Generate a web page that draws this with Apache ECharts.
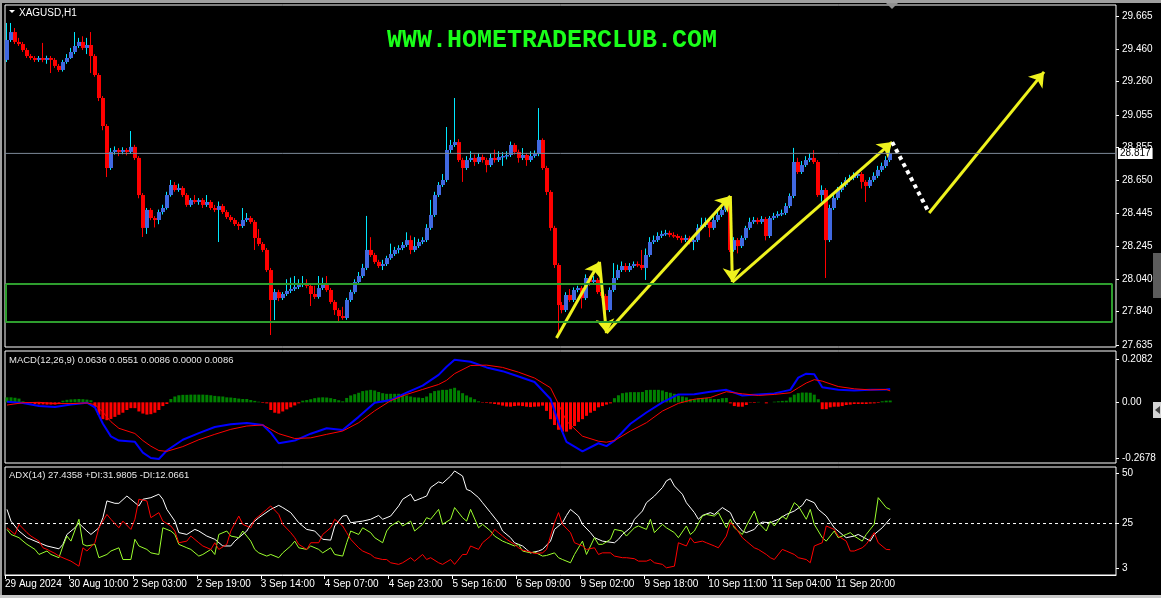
<!DOCTYPE html>
<html><head><meta charset="utf-8">
<script src="https://cdn.jsdelivr.net/npm/echarts@6/dist/echarts.min.js"></script>
<style>html,body{margin:0;padding:0;background:#000;overflow:hidden}#c{width:1161px;height:598px}</style>
</head><body><div id="c"></div>
<script>
// ---------- DATA ----------
const symbolTitle = 'XAGUSD,H1';
const watermark = 'WWW.HOMETRADERCLUB.COM';
const xTickBars = [0,16,32,48,64,80,96,112,128,144,160,176,192,208];
const xTickLabels = ['29 Aug 2024','30 Aug 10:00','2 Sep 03:00','2 Sep 19:00','3 Sep 14:00','4 Sep 07:00','4 Sep 23:00','5 Sep 16:00','6 Sep 09:00','9 Sep 02:00','9 Sep 18:00','10 Sep 11:00','11 Sep 04:00','11 Sep 20:00'];
const priceTicks = [27.635,27.840,28.040,28.245,28.445,28.650,28.855,29.055,29.260,29.460,29.665];
const lastPrice = 28.817;

const opens = [29.394,29.517,29.566,29.505,29.492,29.455,29.418,29.406,29.394,29.406,
29.394,29.406,29.394,29.357,29.332,29.381,29.406,29.443,29.480,29.505,
29.468,29.486,29.418,29.301,29.159,28.986,28.727,28.826,28.838,28.826,
28.838,28.826,28.857,28.789,28.560,28.357,28.468,28.418,28.406,28.455,
28.480,28.560,28.622,28.591,28.603,28.560,28.499,28.529,28.517,28.529,
28.499,28.517,28.480,28.468,28.492,28.455,28.424,28.406,28.381,28.369,
28.406,28.418,28.394,28.295,28.258,28.221,28.097,27.912,27.961,27.924,
27.949,27.968,27.980,27.992,28.005,28.017,27.999,27.949,27.931,27.986,
28.011,27.974,27.900,27.850,27.813,27.801,27.912,27.961,28.023,28.060,
28.110,28.221,28.190,28.147,28.122,28.134,28.171,28.196,28.221,28.233,
28.252,28.282,28.221,28.245,28.270,28.282,28.357,28.437,28.560,28.622,
28.653,28.838,28.869,28.887,28.776,28.727,28.776,28.789,28.764,28.795,
28.776,28.745,28.789,28.776,28.795,28.801,28.807,28.869,28.826,28.789,
28.807,28.776,28.801,28.813,28.900,28.727,28.579,28.357,28.128,27.881,
27.850,27.943,27.912,27.974,27.986,27.924,28.048,28.023,28.036,27.961,
27.937,27.850,27.974,28.048,28.097,28.122,28.097,28.122,28.134,28.128,
28.110,28.190,28.270,28.282,28.307,28.320,28.326,28.313,28.307,28.295,
28.282,28.295,28.270,28.282,28.357,28.375,28.394,28.357,28.406,28.437,
28.468,28.499,28.221,28.282,28.245,28.295,28.357,28.394,28.406,28.394,
28.412,28.307,28.418,28.431,28.443,28.449,28.492,28.554,28.764,28.702,
28.745,28.776,28.789,28.764,28.560,28.591,28.282,28.480,28.542,28.591,
28.622,28.653,28.665,28.678,28.690,28.641,28.616,28.653,28.678,28.715,
28.739,28.776];
const closes = [29.517,29.566,29.505,29.492,29.455,29.418,29.406,29.394,29.406,29.394,
29.406,29.394,29.357,29.332,29.381,29.406,29.443,29.480,29.505,29.468,
29.486,29.418,29.301,29.159,28.986,28.727,28.826,28.838,28.826,28.838,
28.826,28.857,28.789,28.560,28.357,28.468,28.418,28.406,28.455,28.480,
28.560,28.622,28.591,28.603,28.560,28.499,28.529,28.517,28.529,28.499,
28.517,28.480,28.468,28.492,28.455,28.424,28.406,28.381,28.369,28.406,
28.418,28.394,28.295,28.258,28.221,28.097,27.912,27.961,27.924,27.949,
27.968,27.980,27.992,28.005,28.017,27.999,27.949,27.931,27.986,28.011,
27.974,27.900,27.850,27.813,27.801,27.912,27.961,28.023,28.060,28.110,
28.221,28.190,28.147,28.122,28.134,28.171,28.196,28.221,28.233,28.252,
28.282,28.221,28.245,28.270,28.282,28.357,28.437,28.560,28.622,28.653,
28.838,28.869,28.887,28.776,28.727,28.776,28.789,28.764,28.795,28.776,
28.745,28.789,28.776,28.795,28.801,28.807,28.869,28.826,28.789,28.807,
28.776,28.801,28.813,28.900,28.727,28.579,28.357,28.128,27.881,27.850,
27.943,27.912,27.974,27.986,27.924,28.048,28.023,28.036,27.961,27.937,
27.850,27.974,28.048,28.097,28.122,28.097,28.122,28.134,28.128,28.110,
28.190,28.270,28.282,28.307,28.320,28.326,28.313,28.307,28.295,28.282,
28.295,28.270,28.282,28.357,28.375,28.394,28.357,28.406,28.437,28.468,
28.499,28.221,28.282,28.245,28.295,28.357,28.394,28.406,28.394,28.412,
28.307,28.418,28.431,28.443,28.449,28.492,28.554,28.764,28.702,28.745,
28.776,28.789,28.764,28.560,28.591,28.282,28.480,28.542,28.591,28.622,
28.653,28.665,28.678,28.690,28.641,28.616,28.653,28.678,28.715,28.739,
28.776,28.817];
const highs = [29.622,29.622,29.591,29.530,29.505,29.468,29.430,29.418,29.418,29.499,
29.420,29.418,29.406,29.369,29.394,29.430,29.468,29.566,29.530,29.540,
29.530,29.566,29.430,29.313,29.171,28.998,28.850,28.860,28.850,28.855,
28.850,28.955,28.870,28.800,28.572,28.480,28.480,28.430,28.470,28.500,
28.580,28.653,28.640,28.630,28.615,28.572,28.541,28.560,28.541,28.541,
28.560,28.529,28.499,28.520,28.505,28.468,28.437,28.418,28.394,28.480,
28.449,28.430,28.406,28.350,28.270,28.233,28.110,27.980,27.975,27.961,
28.040,28.050,28.060,28.040,28.060,28.040,28.011,28.000,28.060,28.050,
28.060,27.986,27.912,27.862,27.870,27.925,27.975,28.040,28.085,28.135,
28.431,28.300,28.203,28.160,28.160,28.185,28.260,28.240,28.250,28.270,
28.330,28.310,28.300,28.290,28.300,28.380,28.530,28.580,28.640,28.690,
28.980,28.900,29.159,28.905,28.790,28.800,28.830,28.810,28.820,28.810,
28.790,28.815,28.840,28.830,28.825,28.830,28.890,28.880,28.840,28.850,
28.820,28.830,28.835,29.097,28.910,28.740,28.590,28.370,28.140,27.900,
27.960,27.980,27.990,28.000,27.998,28.070,28.060,28.060,28.048,27.975,
27.950,27.990,28.140,28.130,28.150,28.140,28.140,28.150,28.150,28.221,
28.230,28.300,28.310,28.330,28.340,28.345,28.340,28.330,28.320,28.308,
28.315,28.308,28.300,28.380,28.420,28.420,28.406,28.430,28.480,28.490,
28.540,28.529,28.300,28.295,28.310,28.370,28.420,28.425,28.420,28.430,
28.425,28.430,28.450,28.460,28.470,28.510,28.570,28.851,28.790,28.770,
28.800,28.820,28.837,28.776,28.620,28.603,28.500,28.560,28.610,28.640,
28.670,28.685,28.700,28.710,28.702,28.653,28.670,28.700,28.740,28.760,
28.800,28.850];
const lows = [29.381,29.505,29.492,29.480,29.443,29.406,29.394,29.381,29.382,29.380,
29.370,29.313,29.345,29.320,29.322,29.370,29.400,29.430,29.468,29.455,
29.430,29.313,29.290,29.140,28.960,28.671,28.715,28.810,28.800,28.812,
28.805,28.815,28.776,28.540,28.301,28.320,28.405,28.360,28.380,28.440,
28.470,28.550,28.580,28.580,28.548,28.487,28.487,28.505,28.500,28.480,
28.487,28.468,28.455,28.270,28.443,28.412,28.394,28.369,28.345,28.357,
28.394,28.382,28.221,28.245,28.208,28.085,27.696,27.788,27.905,27.912,
27.937,27.955,27.968,27.980,27.992,27.985,27.875,27.918,27.920,27.974,
27.962,27.888,27.820,27.776,27.790,27.790,27.900,27.950,28.010,28.048,
28.097,28.178,28.135,28.110,28.097,28.122,28.160,28.184,28.200,28.220,
28.240,28.195,28.208,28.233,28.257,28.270,28.345,28.425,28.548,28.610,
28.640,28.820,28.857,28.764,28.641,28.715,28.764,28.740,28.752,28.760,
28.700,28.733,28.760,28.764,28.740,28.780,28.795,28.810,28.760,28.776,
28.740,28.764,28.790,28.800,28.715,28.560,28.340,28.110,27.684,27.830,
27.838,27.900,27.900,27.960,27.860,27.912,28.000,28.010,27.949,27.925,
27.745,27.838,27.962,28.036,28.085,28.085,28.085,28.110,28.115,28.097,
28.036,28.178,28.258,28.270,28.295,28.308,28.300,28.295,28.282,28.265,
28.270,28.255,28.220,28.270,28.345,28.362,28.300,28.345,28.394,28.425,
28.455,28.208,28.210,28.200,28.233,28.283,28.345,28.382,28.380,28.382,
28.280,28.295,28.406,28.420,28.430,28.437,28.480,28.541,28.690,28.690,
28.733,28.764,28.752,28.548,28.520,28.048,28.270,28.468,28.530,28.578,
28.610,28.640,28.652,28.665,28.600,28.517,28.604,28.641,28.665,28.702,
28.727,28.764];

// support zone (price band) and the span of bars it covers
const supportZone = [27.776, 28.011];
const supportBars = [-0.25, 276.5];
// drawn trend arrows: [[bar, price], [bar, price]]
const trendArrows = [
  [[137.5,27.678],[148.25,28.147]],
  [[148.25,28.147],[150,27.708]],
  [[150,27.708],[181,28.554]],
  [[181,28.554],[181.5,28.023]],
  [[181.5,28.023],[221.5,28.887]],
  [[230.75,28.449],[259.5,29.320]]
];
const dottedLeg = [[221.5,28.887],[230.75,28.449]];

// MACD(12,26,9)
const macdHeader = ['0.0636','0.0551','0.0086','0.0000','0.0086'];
const macdTicks = [-0.2678, 0, 0.2082];
const macdTickLabels = ['-0.2678','0.00','0.2082'];
const macdHist = [0.024,0.024,0.022,0.018,0.005,-0.003,-0.005,-0.008,-0.010,-0.010,-0.011,-0.011,-0.011,-0.008,0.008,0.012,0.014,0.015,0.016,0.015,0.013,0.010,
-0.024,-0.060,-0.081,-0.086,-0.080,-0.070,-0.060,-0.050,-0.037,-0.028,-0.028,-0.044,-0.054,-0.059,-0.057,-0.050,-0.037,-0.018,-0.008,
0.016,0.028,0.034,0.036,0.036,0.037,0.037,0.037,0.037,0.036,0.034,0.031,0.029,0.028,0.024,0.023,0.021,0.018,0.016,0.016,0.011,0.007,0.003,
-0.003,
-0.005,-0.037,-0.050,-0.054,-0.044,-0.034,-0.024,-0.015,-0.005,
0.008,0.011,0.015,0.020,0.023,0.024,0.023,0.020,0.016,0.010,0.005,
0.021,0.033,0.039,0.046,0.054,0.057,0.060,0.057,0.050,0.044,0.041,0.041,0.041,0.041,0.039,0.033,0.028,0.024,0.023,0.021,0.028,0.044,0.054,0.057,0.060,0.060,
0.065,0.070,0.057,0.044,0.033,0.024,0.015,0.005,
-0.002,-0.003,-0.005,-0.008,-0.011,-0.016,-0.020,-0.021,-0.018,-0.016,-0.018,-0.021,-0.023,-0.021,-0.020,-0.016,
-0.041,-0.081,-0.109,-0.132,-0.141,-0.141,-0.130,-0.114,-0.094,-0.081,-0.065,-0.050,-0.041,-0.024,-0.018,-0.011,-0.005,
0.020,0.034,0.044,0.047,0.049,0.049,0.049,0.050,0.059,0.060,0.060,0.060,0.057,0.050,0.046,0.041,0.033,0.028,0.024,
0.016,0.016,0.020,0.021,0.021,0.018,0.016,0.016,0.020,0.021,
-0.005,-0.018,-0.021,-0.021,-0.013,
-0.002,-0.003,0.002,0.000,-0.005,0.000,0.003,0.005,0.007,0.008,
0.024,0.037,0.044,0.047,0.047,0.046,0.037,0.015,
-0.033,-0.033,-0.024,-0.021,-0.021,-0.018,-0.013,-0.011,-0.008,-0.008,-0.008,-0.008,-0.006,-0.005,-0.003,
0.005,0.008,0.0086];
const macdMain = [[0,0.003],[4,-0.003],[8,-0.018],[12,-0.022],[16,-0.011],[20,-0.002],[22,-0.024],[24,-0.103],[26,-0.164],[28,-0.184],[32,-0.190],[34,-0.242],[36,-0.268],[38,-0.273],[40,-0.232],[44,-0.180],[48,-0.148],[52,-0.119],[56,-0.106],[60,-0.099],[64,-0.109],[66,-0.146],[68,-0.197],[72,-0.184],[76,-0.151],[80,-0.125],[84,-0.133],[88,-0.070],[92,-0.002],[96,0.011],[100,0.047],[104,0.080],[108,0.132],[110,0.171],[112,0.205],[116,0.195],[120,0.168],[124,0.150],[128,0.124],[132,0.098],[136,0.016],[138,-0.098],[140,-0.190],[144,-0.236],[148,-0.197],[150,-0.211],[152,-0.184],[156,-0.103],[160,-0.049],[164,0.000],[168,0.038],[172,0.039],[176,0.051],[180,0.060],[184,0.033],[188,0.038],[192,0.043],[196,0.060],[198,0.119],[200,0.138],[202,0.135],[204,0.073],[208,0.060],[212,0.057],[216,0.060],[220,0.062],[221,0.0636]];
const macdSignal = [[0,-0.013],[4,-0.002],[8,0.000],[12,-0.006],[16,-0.006],[20,-0.003],[22,-0.011],[24,-0.047],[26,-0.093],[28,-0.125],[32,-0.150],[34,-0.184],[36,-0.211],[38,-0.232],[40,-0.236],[44,-0.213],[48,-0.180],[52,-0.154],[56,-0.130],[60,-0.114],[64,-0.109],[66,-0.130],[68,-0.151],[72,-0.174],[76,-0.171],[80,-0.154],[84,-0.138],[88,-0.098],[92,-0.041],[96,0.008],[100,0.038],[104,0.062],[108,0.086],[110,0.106],[112,0.138],[116,0.177],[120,0.179],[124,0.168],[128,0.145],[132,0.117],[136,0.070],[138,-0.008],[140,-0.090],[144,-0.163],[148,-0.187],[150,-0.192],[152,-0.184],[156,-0.138],[160,-0.098],[164,-0.042],[168,-0.005],[172,0.015],[176,0.023],[180,0.051],[184,0.041],[188,0.033],[192,0.038],[196,0.046],[198,0.070],[200,0.093],[202,0.109],[204,0.102],[208,0.076],[212,0.065],[216,0.060],[220,0.062],[221,0.0551]];

// ADX(14)
const adxHeader = {adx:'27.4358', plus:'31.9805', minus:'12.0661'};
const adxTicks = [3, 25, 50];
const adxLevel = 25;
const adxLine = [[0,32.0],[1,26.2],[3,21.3],[5,18.0],[8,15.5],[10,13.9],[13,12.5],[14,14.7],[15,19.6],[17,22.9],[18,25.1],[20,21.3],[21,19.6],[23,22.9],[24,27.9],[25,36.2],[27,35.0],[28,35.0],[30,38.6],[31,37.0],[33,33.7],[34,37.0],[36,37.8],[38,39.5],[39,37.0],[40,32.0],[42,26.2],[43,20.5],[45,19.6],[47,22.1],[48,21.3],[50,18.8],[52,17.2],[54,13.9],[56,13.9],[57,16.3],[58,18.0],[60,21.3],[61,24.6],[63,27.9],[66,32.0],[68,34.0],[69,32.9],[71,30.4],[73,25.4],[75,22.1],[77,21.3],[79,17.2],[81,16.8],[82,23.8],[84,28.7],[85,29.0],[86,25.4],[89,26.2],[91,27.1],[93,29.0],[94,27.1],[96,28.7],[98,33.7],[99,37.0],[101,39.5],[102,36.2],[104,37.8],[105,38.6],[106,42.8],[108,45.6],[109,44.9],[111,48.5],[112,51.0],[114,48.5],[115,41.9],[116,41.1],[118,37.8],[119,35.3],[121,30.4],[123,25.4],[124,21.3],[126,18.0],[127,15.5],[129,13.9],[130,12.2],[131,10.5],[133,11.4],[134,12.2],[136,16.3],[137,22.1],[139,25.4],[140,29.0],[141,32.0],[143,28.7],[144,24.6],[146,20.5],[147,18.0],[149,16.3],[152,15.5],[153,17.2],[154,19.6],[156,22.9],[157,27.1],[159,31.2],[160,35.3],[162,38.6],[164,42.8],[165,46.1],[166,47.2],[167,43.6],[169,39.5],[170,35.3],[172,30.4],[173,27.1],[174,29.0],[176,30.4],[177,29.5],[179,32.9],[181,30.4],[182,26.2],[184,21.3],[185,20.5],[187,22.1],[188,24.6],[189,25.7],[191,25.4],[193,27.1],[195,29.5],[197,31.2],[199,34.0],[200,37.0],[202,35.3],[203,32.0],[205,28.7],[207,22.9],[209,19.6],[210,18.0],[212,18.8],[213,19.6],[215,17.5],[216,16.3],[217,19.6],[219,22.9],[221,27.4358]];
const plusDI = [[0,22.1],[1,19.6],[3,18.0],[4,16.3],[5,14.7],[7,12.2],[8,9.7],[10,11.4],[11,9.7],[13,8.1],[14,13.9],[15,18.8],[16,16.3],[18,27.1],[19,14.7],[20,13.9],[22,14.7],[23,8.1],[25,9.7],[26,11.4],[28,13.0],[29,7.2],[31,7.2],[32,17.2],[33,13.9],[35,12.2],[36,10.5],[38,9.7],[39,22.9],[41,21.3],[42,19.6],[43,14.7],[45,13.0],[46,12.2],[48,8.9],[49,9.7],[51,12.2],[52,9.7],[53,19.6],[55,21.3],[56,18.8],[58,18.0],[59,21.3],[61,16.3],[62,12.2],[63,10.5],[65,8.9],[66,9.7],[68,8.1],[69,10.5],[71,13.9],[72,16.3],[73,13.0],[75,12.2],[76,13.9],[78,12.2],[79,10.5],[81,13.0],[82,9.7],[84,8.9],[85,15.5],[86,21.3],[88,19.6],[89,22.9],[91,20.5],[92,18.0],[94,15.5],[95,21.3],[96,23.8],[98,26.2],[99,23.8],[101,26.2],[102,21.3],[104,24.6],[105,27.9],[106,27.1],[108,32.0],[109,24.6],[111,27.1],[112,32.9],[114,27.9],[115,26.2],[116,32.0],[118,22.9],[119,24.6],[121,21.3],[122,18.8],[124,16.3],[125,15.5],[127,13.9],[128,14.7],[129,11.4],[131,10.5],[132,10.9],[134,8.9],[135,9.2],[137,10.5],[138,8.1],[139,7.2],[141,5.6],[142,9.7],[144,16.3],[145,9.7],[147,18.0],[148,14.7],[149,14.7],[151,17.2],[152,22.1],[154,21.3],[155,18.8],[157,22.9],[158,23.8],[160,22.1],[161,27.1],[162,20.5],[164,24.6],[165,22.9],[167,20.5],[168,18.0],[170,23.8],[171,19.6],[172,21.3],[174,28.7],[175,29.5],[177,28.7],[178,30.4],[180,22.9],[181,27.1],[182,22.9],[184,19.6],[185,23.8],[187,31.2],[188,25.4],[190,21.3],[191,26.2],[192,23.8],[194,28.7],[195,27.1],[197,35.3],[198,33.7],[200,27.1],[201,32.0],[202,24.6],[204,18.0],[205,16.3],[207,21.3],[208,18.0],[210,19.6],[211,20.5],[212,18.8],[214,16.3],[215,19.6],[217,24.6],[218,37.8],[220,32.9],[221,31.9805]];
const minusDI = [[0,22.9],[1,21.3],[2,19.6],[3,24.6],[5,20.5],[6,18.8],[8,16.3],[9,13.0],[10,12.2],[12,10.2],[13,8.9],[15,7.2],[16,6.4],[18,3.9],[19,13.0],[20,11.4],[22,15.5],[23,22.9],[25,29.5],[26,27.1],[28,22.9],[29,26.2],[31,22.1],[32,27.1],[33,37.0],[35,36.2],[36,27.9],[38,30.4],[39,26.2],[41,23.8],[42,21.3],[43,15.5],[45,16.3],[46,18.8],[48,15.5],[49,13.9],[51,12.2],[52,15.5],[53,12.2],[55,14.7],[56,21.3],[58,28.7],[59,24.6],[61,22.9],[62,27.1],[63,28.7],[65,32.0],[66,33.7],[68,29.5],[69,24.6],[71,20.5],[72,18.0],[73,14.7],[75,12.2],[76,15.5],[78,15.5],[79,19.6],[81,22.9],[82,27.1],[84,23.8],[85,20.5],[86,17.2],[88,13.0],[89,11.4],[91,9.7],[92,8.1],[94,7.2],[95,7.2],[96,5.6],[98,4.8],[99,5.6],[101,8.1],[102,6.4],[104,9.7],[105,7.2],[106,8.1],[108,5.6],[109,4.8],[111,7.2],[112,4.8],[114,9.7],[115,9.7],[116,13.9],[118,12.2],[119,15.5],[121,18.8],[122,22.1],[124,18.8],[125,17.2],[127,14.7],[128,13.0],[129,11.9],[131,10.9],[132,10.2],[134,10.5],[135,12.2],[137,25.4],[138,30.4],[139,24.6],[141,20.5],[142,15.5],[144,13.9],[145,12.2],[147,13.0],[148,9.7],[149,10.5],[151,10.5],[152,8.9],[154,8.1],[155,8.1],[157,7.6],[158,6.4],[160,6.4],[161,7.2],[162,5.6],[164,4.8],[165,3.1],[167,3.9],[168,15.5],[170,13.9],[171,18.0],[172,15.5],[174,16.3],[175,15.5],[177,13.9],[178,13.0],[180,18.8],[181,25.4],[182,23.8],[184,18.0],[185,16.3],[187,13.0],[188,12.2],[190,9.7],[191,8.1],[192,7.2],[194,12.2],[195,11.4],[197,9.7],[198,8.1],[200,7.2],[201,5.6],[202,13.9],[204,15.5],[205,23.8],[207,22.1],[208,18.8],[210,16.3],[211,11.4],[212,11.4],[214,13.0],[215,14.7],[217,20.5],[218,15.5],[220,12.2],[221,12.0661]];

// ---------- CHART ----------
const FONT = '"Liberation Sans", Arial, sans-serif';
const SLOTS_MIN = -0.5, SLOTS_MAX = 277.5;
const candleData = opens.map((o, i) => [i, o, closes[i], lows[i], highs[i]]);
const chart = echarts.init(document.getElementById('c'), null, {renderer: 'canvas', width: 1161, height: 598});

function pick(list, labels, v) {
  const k = list.findIndex(t => Math.abs(t - v) < 1e-7);
  return k >= 0 ? labels[k] : '';
}
const yAxisBase = (grid, min, max, ticks, fmt) => ({
  type: 'value', gridIndex: grid, position: 'right', min: min, max: max,
  axisLine: {show: false, onZero: false},
  splitLine: {show: false},
  axisTick: {show: true, customValues: ticks, length: 3, inside: false, lineStyle: {color: '#fff', width: 1}},
  axisLabel: {customValues: ticks, formatter: fmt, color: '#fff', fontSize: 10, fontFamily: FONT, margin: 6}
});
const xAxisHidden = (grid) => ({type: 'value', gridIndex: grid, min: SLOTS_MIN, max: SLOTS_MAX, show: false,
  axisLine: {onZero: false}});
const gridBox = (top, height) => ({left: 5, top: top, width: 1111, height: height, show: true,
  borderColor: '#fff', borderWidth: 1, backgroundColor: 'transparent', containLabel: false, outerBoundsMode: 'none'});

const xTickPos = xTickBars.map(b => b - 0.5);

const option = {
  backgroundColor: '#000',
  animation: false,
  grid: [gridBox(5, 342), gridBox(351, 112), gridBox(467, 108)],
  xAxis: [
    xAxisHidden(0), xAxisHidden(1),
    {type: 'value', gridIndex: 2, min: SLOTS_MIN, max: SLOTS_MAX, position: 'bottom',
      axisLine: {show: true, onZero: false, lineStyle: {color: '#fff', width: 1}},
      splitLine: {show: false},
      axisTick: {show: true, customValues: xTickPos, length: 4, inside: false, lineStyle: {color: '#fff'}},
      axisLabel: {customValues: xTickPos, formatter: v => pick(xTickPos, xTickLabels, v),
        color: '#fff', fontSize: 10, fontFamily: FONT, align: 'left', margin: 4}}
  ],
  yAxis: [
    yAxisBase(0, 27.622, 29.733, priceTicks, v => v.toFixed(3)),
    yAxisBase(1, -0.292, 0.247, macdTicks, v => pick(macdTicks, macdTickLabels, v)),
    yAxisBase(2, -0.46, 52.97, adxTicks, v => String(v))
  ],
  series: [
    { // last price line
      type: 'line', xAxisIndex: 0, yAxisIndex: 0, silent: true, symbol: 'none',
      data: [[SLOTS_MIN, lastPrice], [SLOTS_MAX, lastPrice]],
      lineStyle: {color: '#7d8a99', width: 1},
      endLabel: {show: true, formatter: () => lastPrice.toFixed(3), backgroundColor: '#fff', color: '#000',
        fontSize: 10, fontFamily: FONT, padding: [1, 2, 0, 2], distance: 2}
    },
    { // candles
      type: 'custom', xAxisIndex: 0, yAxisIndex: 0, silent: true, clip: true,
      data: candleData, encode: {x: 0, y: [1, 2, 3, 4]},
      renderItem: function (params, api) {
        const i = api.value(0), o = api.value(1), c = api.value(2), l = api.value(3), h = api.value(4);
        const up = c >= o;
        const pO = api.coord([i, o]), pC = api.coord([i, c]), pL = api.coord([i, l]), pH = api.coord([i, h]);
        const x0 = Math.round(pO[0]);
        const top = Math.min(pO[1], pC[1]), bot = Math.max(pO[1], pC[1]);
        return {type: 'group', children: [
          {type: 'line', shape: {x1: x0 - 0.5, y1: pH[1], x2: x0 - 0.5, y2: pL[1]}, style: {stroke: up ? '#00e8ff' : '#ff0000', lineWidth: 1}},
          {type: 'rect', shape: {x: x0 - 2, y: top, width: 4, height: Math.max(1.5, bot - top)}, style: {fill: up ? '#4169e1' : '#ff0000'}}
        ]};
      }
    },
    { // support zone rectangle
      type: 'line', xAxisIndex: 0, yAxisIndex: 0, silent: true, symbol: 'none', clip: false,
      data: [[supportBars[0], supportZone[1]], [supportBars[1], supportZone[1]], [supportBars[1], supportZone[0]],
             [supportBars[0], supportZone[0]], [supportBars[0], supportZone[1]]],
      lineStyle: {color: '#2e9e2e', width: 2}
    },
    { // yellow trend arrows
      type: 'lines', coordinateSystem: 'cartesian2d', xAxisIndex: 0, yAxisIndex: 0, silent: true,
      polyline: false, symbol: ['none', 'arrow'], symbolSize: 14,
      lineStyle: {color: '#eef21e', width: 3, opacity: 1, curveness: 0},
      data: trendArrows.map(s => ({coords: s}))
    },
    { // white dotted leg
      type: 'lines', coordinateSystem: 'cartesian2d', xAxisIndex: 0, yAxisIndex: 0, silent: true,
      polyline: false, symbol: 'none',
      lineStyle: {color: '#ffffff', width: 4, type: [4, 4], opacity: 1, curveness: 0},
      data: [{coords: dottedLeg}]
    },
    { // MACD histogram
      type: 'bar', xAxisIndex: 1, yAxisIndex: 1, silent: true, barWidth: 3,
      data: macdHist.map((v, i) => [i, v]),
      itemStyle: {color: p => (p.value[1] >= 0 ? '#008000' : '#ff0000')}
    },
    {type: 'line', xAxisIndex: 1, yAxisIndex: 1, silent: true, symbol: 'none', data: macdMain,
      lineStyle: {color: '#0000ff', width: 2}},
    {type: 'line', xAxisIndex: 1, yAxisIndex: 1, silent: true, symbol: 'none', data: macdSignal,
      lineStyle: {color: '#ff0000', width: 1}},
    { // ADX level
      type: 'line', xAxisIndex: 2, yAxisIndex: 2, silent: true, symbol: 'none',
      data: [[SLOTS_MIN, adxLevel], [SLOTS_MAX, adxLevel]],
      lineStyle: {color: '#ffffff', width: 1, type: [3, 3]}
    },
    {type: 'line', xAxisIndex: 2, yAxisIndex: 2, silent: true, symbol: 'none', data: adxLine,
      lineStyle: {color: '#ffffff', width: 1}},
    {type: 'line', xAxisIndex: 2, yAxisIndex: 2, silent: true, symbol: 'none', data: plusDI,
      lineStyle: {color: '#9cff2e', width: 1}},
    {type: 'line', xAxisIndex: 2, yAxisIndex: 2, silent: true, symbol: 'none', data: minusDI,
      lineStyle: {color: '#ff0000', width: 1}}
  ],
  graphic: [
    {type: 'rect', silent: true, shape: {x: 0, y: 0, width: 1161, height: 3}, style: {fill: '#a0a0a0'}},
    {type: 'rect', silent: true, shape: {x: 0, y: 0, width: 2, height: 598}, style: {fill: '#a0a0a0'}},
    {type: 'rect', silent: true, shape: {x: 0, y: 595, width: 1161, height: 3}, style: {fill: '#c8c8c8'}},
    {type: 'rect', silent: true, shape: {x: 1153, y: 253, width: 8, height: 45}, style: {fill: '#5c5c5c'}},
    {type: 'rect', silent: true, shape: {x: 1153, y: 402, width: 8, height: 16}, style: {fill: '#d4d4d4'}},
    {type: 'polygon', silent: true, shape: {points: [[1160, 406], [1155, 410], [1160, 414]]}, style: {fill: '#404040'}},
    {type: 'polygon', silent: true, shape: {points: [[886, 3], [898, 3], [892, 9]]}, style: {fill: '#909090'}},
    {type: 'polygon', silent: true, shape: {points: [[9, 10], [15, 10], [12, 13]]}, style: {fill: '#ffffff'}},
    {type: 'text', silent: true, x: 19, y: 13, style: {text: symbolTitle, fill: '#ffffff', font: '10px ' + FONT, verticalAlign: 'middle'}},
    {type: 'text', silent: true, x: 552, y: 41, style: {text: watermark, fill: '#1aff1a', font: 'bold 25px "Liberation Mono", monospace', align: 'center', verticalAlign: 'middle'}},
    {type: 'text', silent: true, x: 9, y: 360, style: {text: 'MACD(12,26,9) ' + macdHeader.join(' '), fill: '#e6e6e6', font: '9.5px ' + FONT, verticalAlign: 'middle'}},
    {type: 'text', silent: true, x: 9, y: 475, style: {text: 'ADX(14) ' + adxHeader.adx + ' +DI:' + adxHeader.plus + ' -DI:' + adxHeader.minus, fill: '#e6e6e6', font: '9.5px ' + FONT, verticalAlign: 'middle'}}
  ]
};
chart.setOption(option);
</script>
</body></html>
